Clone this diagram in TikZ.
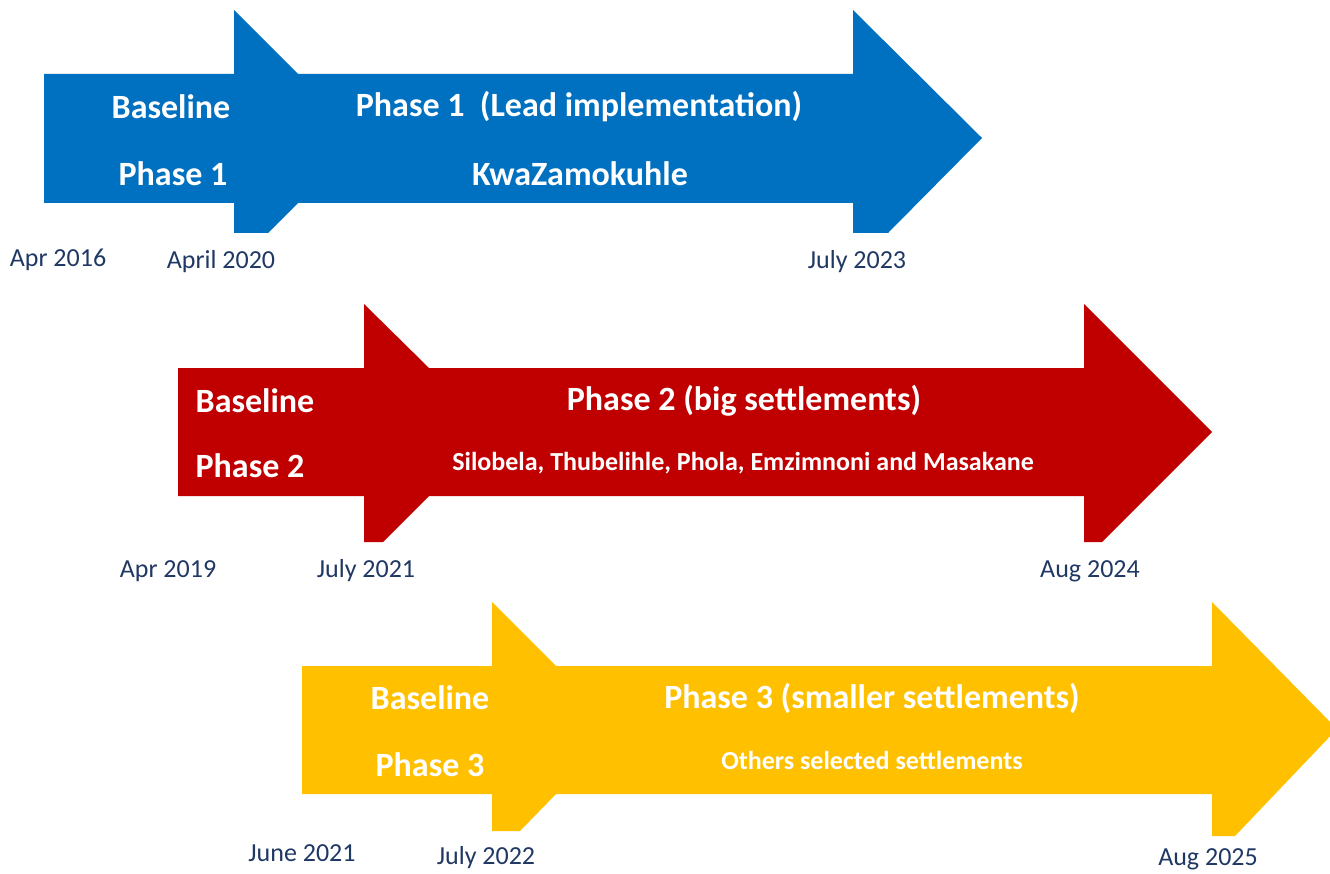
\documentclass[tikz,border=0pt]{standalone}
\usepackage{fontspec}
\setmainfont{Carlito}
\usepackage{tikz}
\usetikzlibrary{calc}

\definecolor{phaseblue}{HTML}{0070C0}
\definecolor{phasered}{HTML}{C00000}
\definecolor{phaseyellow}{HTML}{FFC000}
\definecolor{datenavy}{HTML}{203864}

\begin{document}
\begin{tikzpicture}[x=1pt,y=-1pt,
  big/.style={text=white,font=\fontsize{34}{40}\selectfont\bfseries,inner sep=0pt},
  small/.style={text=white,font=\fontsize{26}{30}\selectfont\bfseries,inner sep=0pt},
  date/.style={text=datenavy,font=\fontsize{26}{30}\selectfont,inner sep=0pt}]
  \useasboundingbox (0,0) rectangle (1330,874);
  \clip (0,0) rectangle (1330,874);
  % phase 1
  \fill[phaseblue] (44,74) -- (234,74) -- (234,10) -- (298,74) -- (853,74) -- (853,10)
    -- (982,138) -- (888,233) -- (853,233) -- (853,203) -- (298,203) -- (268,233)
    -- (234,233) -- (234,203) -- (44,203) -- cycle;
  % phase 2
  \fill[phasered] (178,368) -- (364,368) -- (364,304) -- (429,368) -- (1084,368) -- (1084,304)
    -- (1212,432) -- (1102,542) -- (1084,542) -- (1084,496) -- (429,496) -- (383,542)
    -- (364,542) -- (364,496) -- (178,496) -- cycle;
  % phase 3
  \fill[phaseyellow] (302,666) -- (492,666) -- (492,602) -- (556,666) -- (1212,666) -- (1212,602)
    -- (1337,729) -- (1235,836) -- (1212,836) -- (1212,794) -- (556,794) -- (520,831)
    -- (492,831) -- (492,794) -- (302,794) -- cycle;

  \node[big] (base1) at (171,107) {Baseline};
  \node[big] (bphase1) at (173,174) {Phase 1};
  \node[big] (main1) at (579,107) {Phase 1\ \ (Lead implementation)};
  \node[big] (site1) at (580,174) {KwaZamokuhle};
  \node[date] (d11) at (58,260) {Apr 2016};
  \node[date] (d12) at (221,262) {April 2020};
  \node[date] (d13) at (857,262) {July 2023};

  \node[big] (base2) at (255,401) {Baseline};
  \node[big] (bphase2) at (250,466) {Phase 2};
  \node[big] (main2) at (744,401) {Phase 2 (big settlements)};
  \node[small] (site2) at (743,463) {Silobela, Thubelihle, Phola, Emzimnoni and Masakane};
  \node[date] (d21) at (168,571) {Apr 2019};
  \node[date] (d22) at (366,571) {July 2021};
  \node[date] (d23) at (1090,571) {Aug 2024};

  \node[big] (base3) at (430,698) {Baseline};
  \node[big] (bphase3) at (430,765) {Phase 3};
  \node[big] (main3) at (872,698) {Phase 3 (smaller settlements)};
  \node[small] (site3) at (872,760) {Others selected settlements};
  \node[date] (d31) at (302,853) {June 2021};
  \node[date] (d32) at (486,858) {July 2022};
  \node[date] (d33) at (1208,859) {Aug 2025};
\end{tikzpicture}
\end{document}
